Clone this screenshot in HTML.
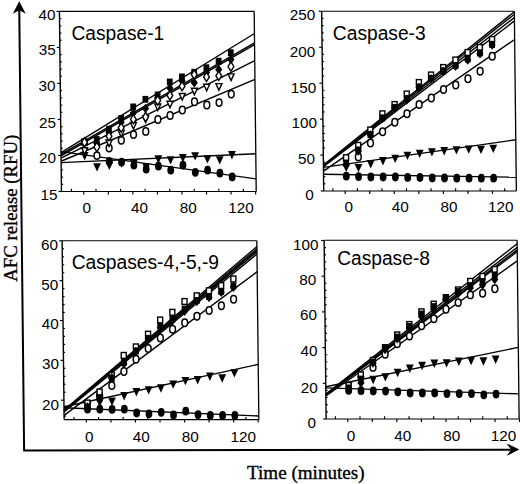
<!DOCTYPE html>
<html><head><meta charset="utf-8"><style>html,body{margin:0;padding:0;background:#fff;}svg{display:block;}</style></head>
<body>
<svg width="520" height="484" viewBox="0 0 520 484">
<rect width="520" height="484" fill="#fff"/>
<line x1="19.25" y1="9" x2="24.1" y2="450.3" stroke="#000" stroke-width="2"/>
<path d="M19.2,1.2 L25.8,13.8 L19.3,10.2 L12.8,13.8 Z" fill="#000"/>
<line x1="23.2" y1="450.4" x2="512" y2="449.7" stroke="#000" stroke-width="2"/>
<path d="M519.3,449.5 L506.6,443.4 L511,449.6 L506.8,455.8 Z" fill="#000"/>
<text x="247.0" y="478.6" font-family="Liberation Serif" font-size="19.1" fill="#000" stroke="#000" stroke-width="0.35">Time (minutes)</text>
<text transform="translate(17.0,281.8) rotate(-90)" x="0" y="0" font-family="Liberation Serif" font-size="18.8" fill="#000" stroke="#000" stroke-width="0.35">AFC release (RFU)</text>
<line x1="59.43" y1="11.35" x2="254.18" y2="11.35" stroke="#000" stroke-width="1.1"/>
<line x1="254.18" y1="11.35" x2="256.21" y2="191.50" stroke="#000" stroke-width="1.3"/>
<line x1="61.46" y1="191.50" x2="256.21" y2="191.50" stroke="#000" stroke-width="1.1"/>
<line x1="59.43" y1="11.35" x2="61.46" y2="191.50" stroke="#000" stroke-width="1.4"/>
<line x1="58.46" y1="191.50" x2="61.46" y2="191.50" stroke="#000" stroke-width="1.15"/>
<line x1="58.06" y1="155.49" x2="61.06" y2="155.49" stroke="#000" stroke-width="1.15"/>
<line x1="57.65" y1="119.47" x2="60.65" y2="119.47" stroke="#000" stroke-width="1.15"/>
<line x1="57.24" y1="83.45" x2="60.24" y2="83.45" stroke="#000" stroke-width="1.15"/>
<line x1="56.84" y1="47.44" x2="59.84" y2="47.44" stroke="#000" stroke-width="1.15"/>
<line x1="56.43" y1="11.42" x2="59.43" y2="11.42" stroke="#000" stroke-width="1.15"/>
<line x1="61.38" y1="184.30" x2="63.18" y2="184.30" stroke="#000" stroke-width="1.15"/>
<line x1="61.30" y1="177.09" x2="63.10" y2="177.09" stroke="#000" stroke-width="1.15"/>
<line x1="61.22" y1="169.89" x2="63.02" y2="169.89" stroke="#000" stroke-width="1.15"/>
<line x1="61.14" y1="162.69" x2="62.94" y2="162.69" stroke="#000" stroke-width="1.15"/>
<line x1="60.98" y1="148.28" x2="62.78" y2="148.28" stroke="#000" stroke-width="1.15"/>
<line x1="60.89" y1="141.08" x2="62.69" y2="141.08" stroke="#000" stroke-width="1.15"/>
<line x1="60.81" y1="133.88" x2="62.61" y2="133.88" stroke="#000" stroke-width="1.15"/>
<line x1="60.73" y1="126.67" x2="62.53" y2="126.67" stroke="#000" stroke-width="1.15"/>
<line x1="60.57" y1="112.27" x2="62.37" y2="112.27" stroke="#000" stroke-width="1.15"/>
<line x1="60.49" y1="105.06" x2="62.29" y2="105.06" stroke="#000" stroke-width="1.15"/>
<line x1="60.41" y1="97.86" x2="62.21" y2="97.86" stroke="#000" stroke-width="1.15"/>
<line x1="60.32" y1="90.66" x2="62.12" y2="90.66" stroke="#000" stroke-width="1.15"/>
<line x1="60.16" y1="76.25" x2="61.96" y2="76.25" stroke="#000" stroke-width="1.15"/>
<line x1="60.08" y1="69.05" x2="61.88" y2="69.05" stroke="#000" stroke-width="1.15"/>
<line x1="60.00" y1="61.85" x2="61.80" y2="61.85" stroke="#000" stroke-width="1.15"/>
<line x1="59.92" y1="54.64" x2="61.72" y2="54.64" stroke="#000" stroke-width="1.15"/>
<line x1="59.75" y1="40.24" x2="61.55" y2="40.24" stroke="#000" stroke-width="1.15"/>
<line x1="59.67" y1="33.03" x2="61.47" y2="33.03" stroke="#000" stroke-width="1.15"/>
<line x1="59.59" y1="25.83" x2="61.39" y2="25.83" stroke="#000" stroke-width="1.15"/>
<line x1="59.51" y1="18.63" x2="61.31" y2="18.63" stroke="#000" stroke-width="1.15"/>
<line x1="71.46" y1="188.80" x2="71.49" y2="191.50" stroke="#000" stroke-width="1.15"/>
<line x1="83.76" y1="191.50" x2="83.80" y2="194.50" stroke="#000" stroke-width="1.15"/>
<line x1="96.01" y1="188.80" x2="96.04" y2="191.50" stroke="#000" stroke-width="1.15"/>
<line x1="108.31" y1="191.50" x2="108.35" y2="194.50" stroke="#000" stroke-width="1.15"/>
<line x1="120.56" y1="188.80" x2="120.59" y2="191.50" stroke="#000" stroke-width="1.15"/>
<line x1="132.86" y1="191.50" x2="132.90" y2="194.50" stroke="#000" stroke-width="1.15"/>
<line x1="145.11" y1="188.80" x2="145.14" y2="191.50" stroke="#000" stroke-width="1.15"/>
<line x1="157.41" y1="191.50" x2="157.45" y2="194.50" stroke="#000" stroke-width="1.15"/>
<line x1="169.66" y1="188.80" x2="169.69" y2="191.50" stroke="#000" stroke-width="1.15"/>
<line x1="181.96" y1="191.50" x2="182.00" y2="194.50" stroke="#000" stroke-width="1.15"/>
<line x1="194.21" y1="188.80" x2="194.24" y2="191.50" stroke="#000" stroke-width="1.15"/>
<line x1="206.51" y1="191.50" x2="206.55" y2="194.50" stroke="#000" stroke-width="1.15"/>
<line x1="218.76" y1="188.80" x2="218.79" y2="191.50" stroke="#000" stroke-width="1.15"/>
<line x1="231.06" y1="191.50" x2="231.10" y2="194.50" stroke="#000" stroke-width="1.15"/>
<line x1="243.31" y1="188.80" x2="243.34" y2="191.50" stroke="#000" stroke-width="1.15"/>
<line x1="255.61" y1="191.50" x2="255.65" y2="194.50" stroke="#000" stroke-width="1.15"/>
<line x1="321.68" y1="11.30" x2="514.33" y2="11.30" stroke="#000" stroke-width="1.1"/>
<line x1="514.33" y1="11.30" x2="516.36" y2="191.00" stroke="#000" stroke-width="1.3"/>
<line x1="323.71" y1="191.00" x2="516.36" y2="191.00" stroke="#000" stroke-width="1.1"/>
<line x1="321.68" y1="11.30" x2="323.71" y2="191.00" stroke="#000" stroke-width="1.4"/>
<line x1="320.71" y1="191.00" x2="323.71" y2="191.00" stroke="#000" stroke-width="1.15"/>
<line x1="320.30" y1="155.06" x2="323.30" y2="155.06" stroke="#000" stroke-width="1.15"/>
<line x1="319.90" y1="119.12" x2="322.90" y2="119.12" stroke="#000" stroke-width="1.15"/>
<line x1="319.49" y1="83.18" x2="322.49" y2="83.18" stroke="#000" stroke-width="1.15"/>
<line x1="319.08" y1="47.24" x2="322.08" y2="47.24" stroke="#000" stroke-width="1.15"/>
<line x1="318.68" y1="11.30" x2="321.68" y2="11.30" stroke="#000" stroke-width="1.15"/>
<line x1="323.63" y1="183.81" x2="325.43" y2="183.81" stroke="#000" stroke-width="1.15"/>
<line x1="323.55" y1="176.62" x2="325.35" y2="176.62" stroke="#000" stroke-width="1.15"/>
<line x1="323.46" y1="169.44" x2="325.26" y2="169.44" stroke="#000" stroke-width="1.15"/>
<line x1="323.38" y1="162.25" x2="325.18" y2="162.25" stroke="#000" stroke-width="1.15"/>
<line x1="323.22" y1="147.87" x2="325.02" y2="147.87" stroke="#000" stroke-width="1.15"/>
<line x1="323.14" y1="140.68" x2="324.94" y2="140.68" stroke="#000" stroke-width="1.15"/>
<line x1="323.06" y1="133.50" x2="324.86" y2="133.50" stroke="#000" stroke-width="1.15"/>
<line x1="322.98" y1="126.31" x2="324.78" y2="126.31" stroke="#000" stroke-width="1.15"/>
<line x1="322.81" y1="111.93" x2="324.61" y2="111.93" stroke="#000" stroke-width="1.15"/>
<line x1="322.73" y1="104.74" x2="324.53" y2="104.74" stroke="#000" stroke-width="1.15"/>
<line x1="322.65" y1="97.56" x2="324.45" y2="97.56" stroke="#000" stroke-width="1.15"/>
<line x1="322.57" y1="90.37" x2="324.37" y2="90.37" stroke="#000" stroke-width="1.15"/>
<line x1="322.41" y1="75.99" x2="324.21" y2="75.99" stroke="#000" stroke-width="1.15"/>
<line x1="322.33" y1="68.80" x2="324.13" y2="68.80" stroke="#000" stroke-width="1.15"/>
<line x1="322.25" y1="61.62" x2="324.05" y2="61.62" stroke="#000" stroke-width="1.15"/>
<line x1="322.17" y1="54.43" x2="323.97" y2="54.43" stroke="#000" stroke-width="1.15"/>
<line x1="322.00" y1="40.05" x2="323.80" y2="40.05" stroke="#000" stroke-width="1.15"/>
<line x1="321.92" y1="32.86" x2="323.72" y2="32.86" stroke="#000" stroke-width="1.15"/>
<line x1="321.84" y1="25.68" x2="323.64" y2="25.68" stroke="#000" stroke-width="1.15"/>
<line x1="321.76" y1="18.49" x2="323.56" y2="18.49" stroke="#000" stroke-width="1.15"/>
<line x1="332.85" y1="188.30" x2="332.88" y2="191.00" stroke="#000" stroke-width="1.15"/>
<line x1="345.16" y1="191.00" x2="345.19" y2="194.00" stroke="#000" stroke-width="1.15"/>
<line x1="357.40" y1="188.30" x2="357.43" y2="191.00" stroke="#000" stroke-width="1.15"/>
<line x1="369.71" y1="191.00" x2="369.74" y2="194.00" stroke="#000" stroke-width="1.15"/>
<line x1="381.95" y1="188.30" x2="381.98" y2="191.00" stroke="#000" stroke-width="1.15"/>
<line x1="394.26" y1="191.00" x2="394.29" y2="194.00" stroke="#000" stroke-width="1.15"/>
<line x1="406.50" y1="188.30" x2="406.53" y2="191.00" stroke="#000" stroke-width="1.15"/>
<line x1="418.81" y1="191.00" x2="418.84" y2="194.00" stroke="#000" stroke-width="1.15"/>
<line x1="431.05" y1="188.30" x2="431.08" y2="191.00" stroke="#000" stroke-width="1.15"/>
<line x1="443.36" y1="191.00" x2="443.39" y2="194.00" stroke="#000" stroke-width="1.15"/>
<line x1="455.60" y1="188.30" x2="455.63" y2="191.00" stroke="#000" stroke-width="1.15"/>
<line x1="467.91" y1="191.00" x2="467.94" y2="194.00" stroke="#000" stroke-width="1.15"/>
<line x1="480.15" y1="188.30" x2="480.18" y2="191.00" stroke="#000" stroke-width="1.15"/>
<line x1="492.46" y1="191.00" x2="492.49" y2="194.00" stroke="#000" stroke-width="1.15"/>
<line x1="504.70" y1="188.30" x2="504.73" y2="191.00" stroke="#000" stroke-width="1.15"/>
<line x1="62.12" y1="240.80" x2="256.82" y2="240.80" stroke="#000" stroke-width="1.1"/>
<line x1="256.82" y1="240.80" x2="258.84" y2="419.60" stroke="#000" stroke-width="1.3"/>
<line x1="64.14" y1="419.60" x2="258.84" y2="419.60" stroke="#000" stroke-width="1.1"/>
<line x1="62.12" y1="240.80" x2="64.14" y2="419.60" stroke="#000" stroke-width="1.4"/>
<line x1="60.92" y1="400.20" x2="63.92" y2="400.20" stroke="#000" stroke-width="1.15"/>
<line x1="60.47" y1="360.35" x2="63.47" y2="360.35" stroke="#000" stroke-width="1.15"/>
<line x1="60.02" y1="320.50" x2="63.02" y2="320.50" stroke="#000" stroke-width="1.15"/>
<line x1="59.57" y1="280.65" x2="62.57" y2="280.65" stroke="#000" stroke-width="1.15"/>
<line x1="59.12" y1="240.80" x2="62.12" y2="240.80" stroke="#000" stroke-width="1.15"/>
<line x1="64.10" y1="416.14" x2="65.90" y2="416.14" stroke="#000" stroke-width="1.15"/>
<line x1="64.01" y1="408.17" x2="65.81" y2="408.17" stroke="#000" stroke-width="1.15"/>
<line x1="63.83" y1="392.23" x2="65.63" y2="392.23" stroke="#000" stroke-width="1.15"/>
<line x1="63.74" y1="384.26" x2="65.54" y2="384.26" stroke="#000" stroke-width="1.15"/>
<line x1="63.65" y1="376.29" x2="65.45" y2="376.29" stroke="#000" stroke-width="1.15"/>
<line x1="63.56" y1="368.32" x2="65.36" y2="368.32" stroke="#000" stroke-width="1.15"/>
<line x1="63.38" y1="352.38" x2="65.18" y2="352.38" stroke="#000" stroke-width="1.15"/>
<line x1="63.29" y1="344.41" x2="65.09" y2="344.41" stroke="#000" stroke-width="1.15"/>
<line x1="63.20" y1="336.44" x2="65.00" y2="336.44" stroke="#000" stroke-width="1.15"/>
<line x1="63.11" y1="328.47" x2="64.91" y2="328.47" stroke="#000" stroke-width="1.15"/>
<line x1="62.93" y1="312.53" x2="64.73" y2="312.53" stroke="#000" stroke-width="1.15"/>
<line x1="62.84" y1="304.56" x2="64.64" y2="304.56" stroke="#000" stroke-width="1.15"/>
<line x1="62.75" y1="296.59" x2="64.55" y2="296.59" stroke="#000" stroke-width="1.15"/>
<line x1="62.66" y1="288.62" x2="64.46" y2="288.62" stroke="#000" stroke-width="1.15"/>
<line x1="62.48" y1="272.68" x2="64.28" y2="272.68" stroke="#000" stroke-width="1.15"/>
<line x1="62.39" y1="264.71" x2="64.19" y2="264.71" stroke="#000" stroke-width="1.15"/>
<line x1="62.30" y1="256.74" x2="64.10" y2="256.74" stroke="#000" stroke-width="1.15"/>
<line x1="62.21" y1="248.77" x2="64.01" y2="248.77" stroke="#000" stroke-width="1.15"/>
<line x1="74.04" y1="416.90" x2="74.07" y2="419.60" stroke="#000" stroke-width="1.15"/>
<line x1="86.34" y1="419.60" x2="86.38" y2="422.60" stroke="#000" stroke-width="1.15"/>
<line x1="98.59" y1="416.90" x2="98.62" y2="419.60" stroke="#000" stroke-width="1.15"/>
<line x1="110.89" y1="419.60" x2="110.93" y2="422.60" stroke="#000" stroke-width="1.15"/>
<line x1="123.14" y1="416.90" x2="123.17" y2="419.60" stroke="#000" stroke-width="1.15"/>
<line x1="135.44" y1="419.60" x2="135.48" y2="422.60" stroke="#000" stroke-width="1.15"/>
<line x1="147.69" y1="416.90" x2="147.72" y2="419.60" stroke="#000" stroke-width="1.15"/>
<line x1="159.99" y1="419.60" x2="160.03" y2="422.60" stroke="#000" stroke-width="1.15"/>
<line x1="172.24" y1="416.90" x2="172.27" y2="419.60" stroke="#000" stroke-width="1.15"/>
<line x1="184.54" y1="419.60" x2="184.58" y2="422.60" stroke="#000" stroke-width="1.15"/>
<line x1="196.79" y1="416.90" x2="196.82" y2="419.60" stroke="#000" stroke-width="1.15"/>
<line x1="209.09" y1="419.60" x2="209.13" y2="422.60" stroke="#000" stroke-width="1.15"/>
<line x1="221.34" y1="416.90" x2="221.37" y2="419.60" stroke="#000" stroke-width="1.15"/>
<line x1="233.64" y1="419.60" x2="233.68" y2="422.60" stroke="#000" stroke-width="1.15"/>
<line x1="245.89" y1="416.90" x2="245.92" y2="419.60" stroke="#000" stroke-width="1.15"/>
<line x1="258.19" y1="419.60" x2="258.23" y2="422.60" stroke="#000" stroke-width="1.15"/>
<line x1="324.12" y1="240.30" x2="517.12" y2="240.30" stroke="#000" stroke-width="1.1"/>
<line x1="517.12" y1="240.30" x2="519.13" y2="419.00" stroke="#000" stroke-width="1.3"/>
<line x1="326.13" y1="419.00" x2="519.13" y2="419.00" stroke="#000" stroke-width="1.1"/>
<line x1="324.12" y1="240.30" x2="326.13" y2="419.00" stroke="#000" stroke-width="1.4"/>
<line x1="323.13" y1="419.00" x2="326.13" y2="419.00" stroke="#000" stroke-width="1.15"/>
<line x1="322.73" y1="383.30" x2="325.73" y2="383.30" stroke="#000" stroke-width="1.15"/>
<line x1="322.33" y1="347.60" x2="325.33" y2="347.60" stroke="#000" stroke-width="1.15"/>
<line x1="321.92" y1="311.90" x2="324.92" y2="311.90" stroke="#000" stroke-width="1.15"/>
<line x1="321.52" y1="276.20" x2="324.52" y2="276.20" stroke="#000" stroke-width="1.15"/>
<line x1="321.12" y1="240.50" x2="324.12" y2="240.50" stroke="#000" stroke-width="1.15"/>
<line x1="326.05" y1="411.86" x2="327.85" y2="411.86" stroke="#000" stroke-width="1.15"/>
<line x1="325.97" y1="404.72" x2="327.77" y2="404.72" stroke="#000" stroke-width="1.15"/>
<line x1="325.89" y1="397.58" x2="327.69" y2="397.58" stroke="#000" stroke-width="1.15"/>
<line x1="325.81" y1="390.44" x2="327.61" y2="390.44" stroke="#000" stroke-width="1.15"/>
<line x1="325.65" y1="376.16" x2="327.45" y2="376.16" stroke="#000" stroke-width="1.15"/>
<line x1="325.57" y1="369.02" x2="327.37" y2="369.02" stroke="#000" stroke-width="1.15"/>
<line x1="325.49" y1="361.88" x2="327.29" y2="361.88" stroke="#000" stroke-width="1.15"/>
<line x1="325.41" y1="354.74" x2="327.21" y2="354.74" stroke="#000" stroke-width="1.15"/>
<line x1="325.25" y1="340.46" x2="327.05" y2="340.46" stroke="#000" stroke-width="1.15"/>
<line x1="325.17" y1="333.32" x2="326.97" y2="333.32" stroke="#000" stroke-width="1.15"/>
<line x1="325.09" y1="326.18" x2="326.89" y2="326.18" stroke="#000" stroke-width="1.15"/>
<line x1="325.01" y1="319.04" x2="326.81" y2="319.04" stroke="#000" stroke-width="1.15"/>
<line x1="324.84" y1="304.76" x2="326.64" y2="304.76" stroke="#000" stroke-width="1.15"/>
<line x1="324.76" y1="297.62" x2="326.56" y2="297.62" stroke="#000" stroke-width="1.15"/>
<line x1="324.68" y1="290.48" x2="326.48" y2="290.48" stroke="#000" stroke-width="1.15"/>
<line x1="324.60" y1="283.34" x2="326.40" y2="283.34" stroke="#000" stroke-width="1.15"/>
<line x1="324.44" y1="269.06" x2="326.24" y2="269.06" stroke="#000" stroke-width="1.15"/>
<line x1="324.36" y1="261.92" x2="326.16" y2="261.92" stroke="#000" stroke-width="1.15"/>
<line x1="324.28" y1="254.78" x2="326.08" y2="254.78" stroke="#000" stroke-width="1.15"/>
<line x1="324.20" y1="247.64" x2="326.00" y2="247.64" stroke="#000" stroke-width="1.15"/>
<line x1="335.43" y1="416.30" x2="335.46" y2="419.00" stroke="#000" stroke-width="1.15"/>
<line x1="347.73" y1="419.00" x2="347.77" y2="422.00" stroke="#000" stroke-width="1.15"/>
<line x1="359.98" y1="416.30" x2="360.01" y2="419.00" stroke="#000" stroke-width="1.15"/>
<line x1="372.28" y1="419.00" x2="372.32" y2="422.00" stroke="#000" stroke-width="1.15"/>
<line x1="384.53" y1="416.30" x2="384.56" y2="419.00" stroke="#000" stroke-width="1.15"/>
<line x1="396.83" y1="419.00" x2="396.87" y2="422.00" stroke="#000" stroke-width="1.15"/>
<line x1="409.08" y1="416.30" x2="409.11" y2="419.00" stroke="#000" stroke-width="1.15"/>
<line x1="421.38" y1="419.00" x2="421.42" y2="422.00" stroke="#000" stroke-width="1.15"/>
<line x1="433.63" y1="416.30" x2="433.66" y2="419.00" stroke="#000" stroke-width="1.15"/>
<line x1="445.93" y1="419.00" x2="445.97" y2="422.00" stroke="#000" stroke-width="1.15"/>
<line x1="458.18" y1="416.30" x2="458.21" y2="419.00" stroke="#000" stroke-width="1.15"/>
<line x1="470.48" y1="419.00" x2="470.52" y2="422.00" stroke="#000" stroke-width="1.15"/>
<line x1="482.73" y1="416.30" x2="482.76" y2="419.00" stroke="#000" stroke-width="1.15"/>
<line x1="495.03" y1="419.00" x2="495.07" y2="422.00" stroke="#000" stroke-width="1.15"/>
<line x1="507.28" y1="416.30" x2="507.31" y2="419.00" stroke="#000" stroke-width="1.15"/>
<line x1="519.58" y1="419.00" x2="519.62" y2="422.00" stroke="#000" stroke-width="1.15"/>
<line x1="61.03" y1="152.72" x2="254.43" y2="33.52" stroke="#000" stroke-width="1.4"/>
<line x1="61.04" y1="154.38" x2="254.53" y2="42.77" stroke="#000" stroke-width="1.4"/>
<line x1="61.06" y1="155.97" x2="254.55" y2="44.65" stroke="#000" stroke-width="1.4"/>
<line x1="61.09" y1="158.01" x2="254.74" y2="60.68" stroke="#000" stroke-width="1.4"/>
<line x1="61.12" y1="161.24" x2="254.95" y2="79.43" stroke="#000" stroke-width="1.4"/>
<line x1="61.14" y1="162.63" x2="255.79" y2="153.73" stroke="#000" stroke-width="1.4"/>
<line x1="61.01" y1="151.60" x2="256.07" y2="178.85" stroke="#000" stroke-width="1.4"/>
<ellipse cx="109.27" cy="161.50" rx="3.4" ry="4.4" fill="#000"/>
<ellipse cx="121.56" cy="162.20" rx="3.4" ry="4.4" fill="#000"/>
<ellipse cx="133.87" cy="165.20" rx="3.4" ry="4.4" fill="#000"/>
<ellipse cx="146.19" cy="169.20" rx="3.4" ry="4.4" fill="#000"/>
<ellipse cx="158.43" cy="166.20" rx="3.4" ry="4.4" fill="#000"/>
<ellipse cx="170.75" cy="170.20" rx="3.4" ry="4.4" fill="#000"/>
<ellipse cx="182.97" cy="165.20" rx="3.4" ry="4.4" fill="#000"/>
<ellipse cx="195.32" cy="172.30" rx="3.4" ry="4.4" fill="#000"/>
<ellipse cx="207.57" cy="170.20" rx="3.4" ry="4.4" fill="#000"/>
<ellipse cx="219.88" cy="173.20" rx="3.4" ry="4.4" fill="#000"/>
<ellipse cx="232.20" cy="177.00" rx="3.4" ry="4.4" fill="#000"/>
<path d="M80.76,152.00H88.56L84.66,160.40Z" fill="#000"/>
<path d="M93.16,163.20H100.96L97.06,171.60Z" fill="#000"/>
<path d="M105.42,161.70H113.22L109.32,170.10Z" fill="#000"/>
<path d="M117.67,159.40H125.47L121.57,167.80Z" fill="#000"/>
<path d="M129.95,159.70H137.75L133.85,168.10Z" fill="#000"/>
<path d="M142.26,163.20H150.06L146.16,171.60Z" fill="#000"/>
<path d="M154.45,155.30H162.25L158.35,163.70Z" fill="#000"/>
<path d="M166.73,156.20H174.53L170.63,164.60Z" fill="#000"/>
<path d="M178.98,154.00H186.78L182.88,162.40Z" fill="#000"/>
<path d="M191.24,152.20H199.04L195.14,160.60Z" fill="#000"/>
<path d="M203.55,155.20H211.35L207.45,163.60Z" fill="#000"/>
<path d="M215.83,156.20H223.63L219.73,164.60Z" fill="#000"/>
<path d="M228.05,151.00H235.85L231.95,159.40Z" fill="#000"/>
<ellipse cx="96.93" cy="155.60" rx="2.9" ry="3.7" fill="#fff" stroke="#000" stroke-width="1.5"/>
<ellipse cx="109.12" cy="148.10" rx="2.9" ry="3.7" fill="#fff" stroke="#000" stroke-width="1.5"/>
<ellipse cx="121.31" cy="140.20" rx="2.9" ry="3.7" fill="#fff" stroke="#000" stroke-width="1.5"/>
<ellipse cx="133.52" cy="134.60" rx="2.9" ry="3.7" fill="#fff" stroke="#000" stroke-width="1.5"/>
<ellipse cx="145.76" cy="131.40" rx="2.9" ry="3.7" fill="#fff" stroke="#000" stroke-width="1.5"/>
<ellipse cx="157.90" cy="119.50" rx="2.9" ry="3.7" fill="#fff" stroke="#000" stroke-width="1.5"/>
<ellipse cx="170.13" cy="115.50" rx="2.9" ry="3.7" fill="#fff" stroke="#000" stroke-width="1.5"/>
<ellipse cx="182.34" cy="110.00" rx="2.9" ry="3.7" fill="#fff" stroke="#000" stroke-width="1.5"/>
<ellipse cx="194.52" cy="101.70" rx="2.9" ry="3.7" fill="#fff" stroke="#000" stroke-width="1.5"/>
<ellipse cx="206.84" cy="105.00" rx="2.9" ry="3.7" fill="#fff" stroke="#000" stroke-width="1.5"/>
<ellipse cx="219.08" cy="102.60" rx="2.9" ry="3.7" fill="#fff" stroke="#000" stroke-width="1.5"/>
<ellipse cx="231.26" cy="94.10" rx="2.9" ry="3.7" fill="#fff" stroke="#000" stroke-width="1.5"/>
<path d="M81.60,147.80H87.60L84.60,154.40Z" fill="#fff" stroke="#000" stroke-width="1.4"/>
<path d="M106.07,140.00H112.07L109.07,146.60Z" fill="#fff" stroke="#000" stroke-width="1.4"/>
<path d="M118.23,130.50H124.23L121.23,137.10Z" fill="#fff" stroke="#000" stroke-width="1.4"/>
<path d="M130.42,122.50H136.42L133.42,129.10Z" fill="#fff" stroke="#000" stroke-width="1.4"/>
<path d="M142.62,116.00H148.62L145.62,122.60Z" fill="#fff" stroke="#000" stroke-width="1.4"/>
<path d="M154.76,104.00H160.76L157.76,110.60Z" fill="#fff" stroke="#000" stroke-width="1.4"/>
<path d="M167.00,101.20H173.00L170.00,107.80Z" fill="#fff" stroke="#000" stroke-width="1.4"/>
<path d="M179.19,93.50H185.19L182.19,100.10Z" fill="#fff" stroke="#000" stroke-width="1.4"/>
<path d="M191.41,88.20H197.41L194.41,94.80Z" fill="#fff" stroke="#000" stroke-width="1.4"/>
<path d="M203.64,84.30H209.64L206.64,90.90Z" fill="#fff" stroke="#000" stroke-width="1.4"/>
<path d="M215.90,83.60H221.90L218.90,90.20Z" fill="#fff" stroke="#000" stroke-width="1.4"/>
<path d="M228.07,73.90H234.07L231.07,80.50Z" fill="#fff" stroke="#000" stroke-width="1.4"/>
<rect x="82.00" y="139.10" width="5.0" height="5.8" fill="#fff" stroke="#000" stroke-width="1.4"/>
<rect x="81.60" y="138.60" width="5.8" height="6.8" fill="#000"/>
<rect x="93.85" y="136.10" width="5.8" height="6.8" fill="#000"/>
<rect x="106.01" y="125.80" width="5.8" height="6.8" fill="#000"/>
<rect x="118.16" y="115.10" width="5.8" height="6.8" fill="#000"/>
<rect x="130.31" y="103.50" width="5.8" height="6.8" fill="#000"/>
<rect x="142.50" y="95.90" width="5.8" height="6.8" fill="#000"/>
<rect x="154.72" y="91.50" width="5.8" height="6.8" fill="#000"/>
<rect x="166.85" y="78.60" width="5.8" height="6.8" fill="#000"/>
<rect x="179.07" y="73.50" width="5.8" height="6.8" fill="#000"/>
<rect x="191.29" y="68.90" width="5.8" height="6.8" fill="#000"/>
<rect x="203.52" y="64.30" width="5.8" height="6.8" fill="#000"/>
<rect x="215.72" y="57.80" width="5.8" height="6.8" fill="#000"/>
<rect x="227.90" y="49.30" width="5.8" height="6.8" fill="#000"/>
<path d="M84.51,137.70L88.11,142.50L84.51,147.30L80.91,142.50Z" fill="#000"/>
<path d="M96.80,138.70L100.40,143.50L96.80,148.30L93.20,143.50Z" fill="#000"/>
<path d="M108.95,127.70L112.55,132.50L108.95,137.30L105.35,132.50Z" fill="#000"/>
<path d="M121.11,117.70L124.71,122.50L121.11,127.30L117.51,122.50Z" fill="#000"/>
<path d="M133.28,108.20L136.88,113.00L133.28,117.80L129.68,113.00Z" fill="#000"/>
<path d="M145.50,103.70L149.10,108.50L145.50,113.30L141.90,108.50Z" fill="#000"/>
<path d="M157.66,93.20L161.26,98.00L157.66,102.80L154.06,98.00Z" fill="#000"/>
<path d="M169.82,83.20L173.42,88.00L169.82,92.80L166.22,88.00Z" fill="#000"/>
<path d="M182.02,76.20L185.62,81.00L182.02,85.80L178.42,81.00Z" fill="#000"/>
<path d="M194.31,77.90L197.91,82.70L194.31,87.50L190.71,82.70Z" fill="#000"/>
<path d="M206.47,67.70L210.07,72.50L206.47,77.30L202.87,72.50Z" fill="#000"/>
<path d="M218.71,64.70L222.31,69.50L218.71,74.30L215.11,69.50Z" fill="#000"/>
<path d="M230.87,54.80L234.47,59.60L230.87,64.40L227.27,59.60Z" fill="#000"/>
<path d="M84.51,137.70L87.41,142.30L84.51,146.90L81.61,142.30Z" fill="#fff" stroke="#000" stroke-width="1.4"/>
<path d="M96.84,142.40L99.74,147.00L96.84,151.60L93.94,147.00Z" fill="#fff" stroke="#000" stroke-width="1.4"/>
<path d="M108.99,131.60L111.89,136.20L108.99,140.80L106.09,136.20Z" fill="#fff" stroke="#000" stroke-width="1.4"/>
<path d="M121.17,123.10L124.07,127.70L121.17,132.30L118.27,127.70Z" fill="#fff" stroke="#000" stroke-width="1.4"/>
<path d="M133.35,114.60L136.25,119.20L133.35,123.80L130.45,119.20Z" fill="#fff" stroke="#000" stroke-width="1.4"/>
<path d="M145.60,112.40L148.50,117.00L145.60,121.60L142.70,117.00Z" fill="#fff" stroke="#000" stroke-width="1.4"/>
<path d="M157.69,95.90L160.59,100.50L157.69,105.10L154.79,100.50Z" fill="#fff" stroke="#000" stroke-width="1.4"/>
<path d="M169.90,90.80L172.80,95.40L169.90,100.00L167.00,95.40Z" fill="#fff" stroke="#000" stroke-width="1.4"/>
<path d="M182.07,81.60L184.97,86.20L182.07,90.80L179.17,86.20Z" fill="#fff" stroke="#000" stroke-width="1.4"/>
<path d="M194.22,70.00L197.12,74.60L194.22,79.20L191.32,74.60Z" fill="#fff" stroke="#000" stroke-width="1.4"/>
<path d="M206.52,72.30L209.42,76.90L206.52,81.50L203.62,76.90Z" fill="#fff" stroke="#000" stroke-width="1.4"/>
<path d="M218.78,71.20L221.68,75.80L218.78,80.40L215.88,75.80Z" fill="#fff" stroke="#000" stroke-width="1.4"/>
<path d="M230.95,61.90L233.85,66.50L230.95,71.10L228.05,66.50Z" fill="#fff" stroke="#000" stroke-width="1.4"/>
<line x1="323.41" y1="164.99" x2="514.33" y2="11.77" stroke="#000" stroke-width="1.4"/>
<line x1="323.42" y1="165.48" x2="514.36" y2="14.25" stroke="#000" stroke-width="1.4"/>
<line x1="323.43" y1="165.98" x2="514.40" y2="17.52" stroke="#000" stroke-width="1.4"/>
<line x1="323.43" y1="166.58" x2="514.44" y2="20.90" stroke="#000" stroke-width="1.4"/>
<line x1="323.48" y1="171.14" x2="514.65" y2="39.46" stroke="#000" stroke-width="1.4"/>
<line x1="323.44" y1="167.39" x2="515.78" y2="139.79" stroke="#000" stroke-width="1.4"/>
<line x1="323.52" y1="174.20" x2="516.20" y2="177.23" stroke="#000" stroke-width="1.4"/>
<ellipse cx="346.29" cy="176.20" rx="3.4" ry="4.4" fill="#000"/>
<ellipse cx="358.57" cy="176.60" rx="3.4" ry="4.4" fill="#000"/>
<ellipse cx="370.85" cy="177.00" rx="3.4" ry="4.4" fill="#000"/>
<ellipse cx="383.13" cy="177.00" rx="3.4" ry="4.4" fill="#000"/>
<ellipse cx="395.40" cy="177.00" rx="3.4" ry="4.4" fill="#000"/>
<ellipse cx="407.68" cy="177.50" rx="3.4" ry="4.4" fill="#000"/>
<ellipse cx="419.96" cy="177.50" rx="3.4" ry="4.4" fill="#000"/>
<ellipse cx="432.24" cy="178.00" rx="3.4" ry="4.4" fill="#000"/>
<ellipse cx="444.51" cy="178.00" rx="3.4" ry="4.4" fill="#000"/>
<ellipse cx="456.79" cy="178.20" rx="3.4" ry="4.4" fill="#000"/>
<ellipse cx="469.06" cy="178.20" rx="3.4" ry="4.4" fill="#000"/>
<ellipse cx="481.34" cy="178.20" rx="3.4" ry="4.4" fill="#000"/>
<ellipse cx="493.61" cy="178.20" rx="3.4" ry="4.4" fill="#000"/>
<path d="M342.29,163.70H350.09L346.19,172.10Z" fill="#000"/>
<path d="M354.57,163.90H362.37L358.47,172.30Z" fill="#000"/>
<path d="M366.80,160.00H374.60L370.70,168.40Z" fill="#000"/>
<path d="M379.04,157.00H386.84L382.94,165.40Z" fill="#000"/>
<path d="M391.29,154.70H399.09L395.19,163.10Z" fill="#000"/>
<path d="M403.53,151.70H411.33L407.43,160.10Z" fill="#000"/>
<path d="M415.78,149.70H423.58L419.68,158.10Z" fill="#000"/>
<path d="M428.04,148.20H435.84L431.94,156.60Z" fill="#000"/>
<path d="M440.30,147.00H448.10L444.20,155.40Z" fill="#000"/>
<path d="M452.57,146.20H460.37L456.47,154.60Z" fill="#000"/>
<path d="M464.84,145.40H472.64L468.74,153.80Z" fill="#000"/>
<path d="M477.11,145.70H484.91L481.01,154.10Z" fill="#000"/>
<path d="M489.38,144.70H497.18L493.28,153.10Z" fill="#000"/>
<ellipse cx="358.35" cy="156.90" rx="2.9" ry="3.7" fill="#fff" stroke="#000" stroke-width="1.5"/>
<ellipse cx="370.47" cy="143.00" rx="2.9" ry="3.7" fill="#fff" stroke="#000" stroke-width="1.5"/>
<ellipse cx="382.61" cy="131.80" rx="2.9" ry="3.7" fill="#fff" stroke="#000" stroke-width="1.5"/>
<ellipse cx="394.78" cy="122.30" rx="2.9" ry="3.7" fill="#fff" stroke="#000" stroke-width="1.5"/>
<ellipse cx="406.96" cy="113.70" rx="2.9" ry="3.7" fill="#fff" stroke="#000" stroke-width="1.5"/>
<ellipse cx="419.13" cy="104.50" rx="2.9" ry="3.7" fill="#fff" stroke="#000" stroke-width="1.5"/>
<ellipse cx="431.33" cy="98.00" rx="2.9" ry="3.7" fill="#fff" stroke="#000" stroke-width="1.5"/>
<ellipse cx="443.51" cy="89.50" rx="2.9" ry="3.7" fill="#fff" stroke="#000" stroke-width="1.5"/>
<ellipse cx="455.74" cy="85.00" rx="2.9" ry="3.7" fill="#fff" stroke="#000" stroke-width="1.5"/>
<ellipse cx="467.94" cy="78.80" rx="2.9" ry="3.7" fill="#fff" stroke="#000" stroke-width="1.5"/>
<ellipse cx="480.13" cy="71.30" rx="2.9" ry="3.7" fill="#fff" stroke="#000" stroke-width="1.5"/>
<ellipse cx="492.24" cy="56.30" rx="2.9" ry="3.7" fill="#fff" stroke="#000" stroke-width="1.5"/>
<rect x="343.58" y="154.80" width="5.0" height="5.8" fill="#fff" stroke="#000" stroke-width="1.4"/>
<rect x="355.72" y="142.50" width="5.0" height="5.8" fill="#fff" stroke="#000" stroke-width="1.4"/>
<rect x="367.82" y="127.10" width="5.0" height="5.8" fill="#fff" stroke="#000" stroke-width="1.4"/>
<rect x="379.91" y="110.90" width="5.0" height="5.8" fill="#fff" stroke="#000" stroke-width="1.4"/>
<rect x="392.08" y="101.60" width="5.0" height="5.8" fill="#fff" stroke="#000" stroke-width="1.4"/>
<rect x="404.24" y="91.10" width="5.0" height="5.8" fill="#fff" stroke="#000" stroke-width="1.4"/>
<rect x="416.38" y="79.60" width="5.0" height="5.8" fill="#fff" stroke="#000" stroke-width="1.4"/>
<rect x="428.57" y="72.10" width="5.0" height="5.8" fill="#fff" stroke="#000" stroke-width="1.4"/>
<rect x="440.76" y="64.60" width="5.0" height="5.8" fill="#fff" stroke="#000" stroke-width="1.4"/>
<rect x="452.95" y="57.10" width="5.0" height="5.8" fill="#fff" stroke="#000" stroke-width="1.4"/>
<rect x="465.14" y="49.60" width="5.0" height="5.8" fill="#fff" stroke="#000" stroke-width="1.4"/>
<rect x="477.36" y="44.60" width="5.0" height="5.8" fill="#fff" stroke="#000" stroke-width="1.4"/>
<rect x="489.55" y="36.60" width="5.0" height="5.8" fill="#fff" stroke="#000" stroke-width="1.4"/>
<rect x="343.24" y="159.60" width="5.8" height="6.8" fill="#000"/>
<rect x="355.37" y="146.60" width="5.8" height="6.8" fill="#000"/>
<rect x="367.47" y="131.10" width="5.8" height="6.8" fill="#000"/>
<rect x="379.56" y="114.60" width="5.8" height="6.8" fill="#000"/>
<rect x="391.71" y="104.10" width="5.8" height="6.8" fill="#000"/>
<rect x="403.89" y="95.10" width="5.8" height="6.8" fill="#000"/>
<rect x="416.03" y="83.60" width="5.8" height="6.8" fill="#000"/>
<rect x="428.21" y="75.10" width="5.8" height="6.8" fill="#000"/>
<rect x="440.40" y="67.60" width="5.8" height="6.8" fill="#000"/>
<rect x="452.62" y="62.10" width="5.8" height="6.8" fill="#000"/>
<rect x="464.82" y="55.60" width="5.8" height="6.8" fill="#000"/>
<rect x="477.02" y="49.60" width="5.8" height="6.8" fill="#000"/>
<rect x="489.20" y="41.10" width="5.8" height="6.8" fill="#000"/>
<path d="M346.16,160.20L349.76,165.00L346.16,169.80L342.56,165.00Z" fill="#000"/>
<path d="M358.28,146.20L361.88,151.00L358.28,155.80L354.68,151.00Z" fill="#000"/>
<path d="M370.38,130.20L373.98,135.00L370.38,139.80L366.78,135.00Z" fill="#000"/>
<path d="M382.46,113.70L386.06,118.50L382.46,123.30L378.86,118.50Z" fill="#000"/>
<path d="M394.62,103.40L398.22,108.20L394.62,113.00L391.02,108.20Z" fill="#000"/>
<path d="M406.81,95.20L410.41,100.00L406.81,104.80L403.20,100.00Z" fill="#000"/>
<path d="M418.94,82.70L422.54,87.50L418.94,92.30L415.34,87.50Z" fill="#000"/>
<path d="M431.12,74.00L434.72,78.80L431.12,83.60L427.52,78.80Z" fill="#000"/>
<path d="M443.31,66.50L446.91,71.30L443.31,76.10L439.71,71.30Z" fill="#000"/>
<path d="M455.52,61.50L459.12,66.30L455.52,71.10L451.92,66.30Z" fill="#000"/>
<path d="M467.73,55.20L471.33,60.00L467.73,64.80L464.13,60.00Z" fill="#000"/>
<path d="M479.93,49.00L483.53,53.80L479.93,58.60L476.33,53.80Z" fill="#000"/>
<path d="M492.11,40.20L495.71,45.00L492.11,49.80L488.51,45.00Z" fill="#000"/>
<line x1="64.03" y1="409.97" x2="256.89" y2="246.63" stroke="#000" stroke-width="1.4"/>
<line x1="64.04" y1="410.47" x2="256.91" y2="248.81" stroke="#000" stroke-width="1.4"/>
<line x1="64.04" y1="410.96" x2="256.93" y2="250.29" stroke="#000" stroke-width="1.4"/>
<line x1="64.05" y1="411.46" x2="256.95" y2="251.78" stroke="#000" stroke-width="1.4"/>
<line x1="64.06" y1="411.95" x2="256.97" y2="253.95" stroke="#000" stroke-width="1.4"/>
<line x1="64.09" y1="415.33" x2="257.17" y2="271.67" stroke="#000" stroke-width="1.4"/>
<line x1="64.00" y1="406.70" x2="258.22" y2="364.42" stroke="#000" stroke-width="1.4"/>
<line x1="64.01" y1="407.80" x2="258.80" y2="415.96" stroke="#000" stroke-width="1.4"/>
<ellipse cx="87.52" cy="409.20" rx="3.4" ry="4.4" fill="#000"/>
<ellipse cx="99.80" cy="409.20" rx="3.4" ry="4.4" fill="#000"/>
<ellipse cx="112.08" cy="409.40" rx="3.4" ry="4.4" fill="#000"/>
<ellipse cx="124.35" cy="409.20" rx="3.4" ry="4.4" fill="#000"/>
<ellipse cx="136.67" cy="413.00" rx="3.4" ry="4.4" fill="#000"/>
<ellipse cx="148.95" cy="413.80" rx="3.4" ry="4.4" fill="#000"/>
<ellipse cx="161.21" cy="412.30" rx="3.4" ry="4.4" fill="#000"/>
<ellipse cx="173.51" cy="415.00" rx="3.4" ry="4.4" fill="#000"/>
<ellipse cx="185.75" cy="411.20" rx="3.4" ry="4.4" fill="#000"/>
<ellipse cx="198.06" cy="414.60" rx="3.4" ry="4.4" fill="#000"/>
<ellipse cx="210.34" cy="415.40" rx="3.4" ry="4.4" fill="#000"/>
<ellipse cx="222.62" cy="415.40" rx="3.4" ry="4.4" fill="#000"/>
<ellipse cx="234.89" cy="415.40" rx="3.4" ry="4.4" fill="#000"/>
<path d="M83.59,402.20H91.39L87.49,410.60Z" fill="#000"/>
<path d="M95.82,398.70H103.62L99.72,407.10Z" fill="#000"/>
<path d="M108.09,397.60H115.89L111.99,406.00Z" fill="#000"/>
<path d="M120.30,392.00H128.10L124.20,400.40Z" fill="#000"/>
<path d="M132.53,388.10H140.33L136.43,396.50Z" fill="#000"/>
<path d="M144.78,386.20H152.58L148.68,394.60Z" fill="#000"/>
<path d="M157.04,384.30H164.84L160.94,392.70Z" fill="#000"/>
<path d="M169.27,380.40H177.07L173.17,388.80Z" fill="#000"/>
<path d="M181.50,376.90H189.30L185.40,385.30Z" fill="#000"/>
<path d="M193.77,376.00H201.57L197.67,384.40Z" fill="#000"/>
<path d="M206.00,372.60H213.80L209.90,381.00Z" fill="#000"/>
<path d="M218.30,374.30H226.10L222.20,382.70Z" fill="#000"/>
<path d="M230.51,369.20H238.31L234.41,377.60Z" fill="#000"/>
<ellipse cx="99.65" cy="395.80" rx="2.9" ry="3.7" fill="#fff" stroke="#000" stroke-width="1.5"/>
<ellipse cx="111.81" cy="385.60" rx="2.9" ry="3.7" fill="#fff" stroke="#000" stroke-width="1.5"/>
<ellipse cx="123.92" cy="371.50" rx="2.9" ry="3.7" fill="#fff" stroke="#000" stroke-width="1.5"/>
<ellipse cx="136.06" cy="359.20" rx="2.9" ry="3.7" fill="#fff" stroke="#000" stroke-width="1.5"/>
<ellipse cx="148.21" cy="348.50" rx="2.9" ry="3.7" fill="#fff" stroke="#000" stroke-width="1.5"/>
<ellipse cx="160.37" cy="338.00" rx="2.9" ry="3.7" fill="#fff" stroke="#000" stroke-width="1.5"/>
<ellipse cx="172.54" cy="329.20" rx="2.9" ry="3.7" fill="#fff" stroke="#000" stroke-width="1.5"/>
<ellipse cx="184.75" cy="322.70" rx="2.9" ry="3.7" fill="#fff" stroke="#000" stroke-width="1.5"/>
<ellipse cx="196.95" cy="316.20" rx="2.9" ry="3.7" fill="#fff" stroke="#000" stroke-width="1.5"/>
<ellipse cx="209.16" cy="310.40" rx="2.9" ry="3.7" fill="#fff" stroke="#000" stroke-width="1.5"/>
<ellipse cx="221.38" cy="305.70" rx="2.9" ry="3.7" fill="#fff" stroke="#000" stroke-width="1.5"/>
<ellipse cx="233.58" cy="299.30" rx="2.9" ry="3.7" fill="#fff" stroke="#000" stroke-width="1.5"/>
<rect x="84.95" y="400.10" width="5.0" height="5.8" fill="#fff" stroke="#000" stroke-width="1.4"/>
<rect x="97.10" y="389.10" width="5.0" height="5.8" fill="#fff" stroke="#000" stroke-width="1.4"/>
<rect x="109.19" y="372.50" width="5.0" height="5.8" fill="#fff" stroke="#000" stroke-width="1.4"/>
<rect x="121.24" y="352.50" width="5.0" height="5.8" fill="#fff" stroke="#000" stroke-width="1.4"/>
<rect x="133.42" y="344.00" width="5.0" height="5.8" fill="#fff" stroke="#000" stroke-width="1.4"/>
<rect x="145.55" y="331.30" width="5.0" height="5.8" fill="#fff" stroke="#000" stroke-width="1.4"/>
<rect x="157.67" y="317.10" width="5.0" height="5.8" fill="#fff" stroke="#000" stroke-width="1.4"/>
<rect x="169.85" y="309.40" width="5.0" height="5.8" fill="#fff" stroke="#000" stroke-width="1.4"/>
<rect x="182.01" y="298.60" width="5.0" height="5.8" fill="#fff" stroke="#000" stroke-width="1.4"/>
<rect x="194.22" y="292.90" width="5.0" height="5.8" fill="#fff" stroke="#000" stroke-width="1.4"/>
<rect x="206.44" y="287.90" width="5.0" height="5.8" fill="#fff" stroke="#000" stroke-width="1.4"/>
<rect x="218.65" y="282.70" width="5.0" height="5.8" fill="#fff" stroke="#000" stroke-width="1.4"/>
<rect x="230.85" y="276.10" width="5.0" height="5.8" fill="#fff" stroke="#000" stroke-width="1.4"/>
<rect x="84.60" y="403.60" width="5.8" height="6.8" fill="#000"/>
<rect x="96.77" y="394.60" width="5.8" height="6.8" fill="#000"/>
<rect x="108.83" y="375.10" width="5.8" height="6.8" fill="#000"/>
<rect x="120.92" y="359.10" width="5.8" height="6.8" fill="#000"/>
<rect x="133.07" y="347.60" width="5.8" height="6.8" fill="#000"/>
<rect x="145.20" y="335.10" width="5.8" height="6.8" fill="#000"/>
<rect x="157.33" y="322.60" width="5.8" height="6.8" fill="#000"/>
<rect x="169.53" y="315.60" width="5.8" height="6.8" fill="#000"/>
<rect x="181.69" y="305.60" width="5.8" height="6.8" fill="#000"/>
<rect x="193.87" y="297.10" width="5.8" height="6.8" fill="#000"/>
<rect x="206.10" y="293.10" width="5.8" height="6.8" fill="#000"/>
<rect x="218.32" y="288.10" width="5.8" height="6.8" fill="#000"/>
<rect x="230.53" y="282.60" width="5.8" height="6.8" fill="#000"/>
<path d="M87.50,402.20L91.10,407.00L87.50,411.80L83.90,407.00Z" fill="#000"/>
<path d="M99.68,394.20L103.28,399.00L99.68,403.80L96.08,399.00Z" fill="#000"/>
<path d="M111.72,372.90L115.32,377.70L111.72,382.50L108.12,377.70Z" fill="#000"/>
<path d="M123.84,359.00L127.44,363.80L123.84,368.60L120.24,363.80Z" fill="#000"/>
<path d="M135.97,346.70L139.57,351.50L135.97,356.30L132.37,351.50Z" fill="#000"/>
<path d="M148.11,334.40L151.71,339.20L148.11,344.00L144.51,339.20Z" fill="#000"/>
<path d="M160.25,322.90L163.85,327.70L160.25,332.50L156.65,327.70Z" fill="#000"/>
<path d="M172.45,316.00L176.05,320.80L172.45,325.60L168.85,320.80Z" fill="#000"/>
<path d="M184.62,306.40L188.22,311.20L184.62,316.00L181.02,311.20Z" fill="#000"/>
<path d="M196.78,296.70L200.38,301.50L196.78,306.30L193.18,301.50Z" fill="#000"/>
<path d="M209.01,292.70L212.61,297.50L209.01,302.30L205.41,297.50Z" fill="#000"/>
<path d="M221.23,287.50L224.83,292.30L221.23,297.10L217.63,292.30Z" fill="#000"/>
<path d="M233.44,282.30L237.04,287.10L233.44,291.90L229.84,287.10Z" fill="#000"/>
<line x1="325.85" y1="393.95" x2="517.15" y2="243.71" stroke="#000" stroke-width="1.4"/>
<line x1="325.86" y1="394.44" x2="517.20" y2="247.38" stroke="#000" stroke-width="1.4"/>
<line x1="325.86" y1="394.93" x2="517.22" y2="249.86" stroke="#000" stroke-width="1.4"/>
<line x1="325.87" y1="395.42" x2="517.24" y2="251.64" stroke="#000" stroke-width="1.4"/>
<line x1="325.87" y1="396.00" x2="517.35" y2="260.87" stroke="#000" stroke-width="1.4"/>
<line x1="325.77" y1="386.81" x2="518.33" y2="347.39" stroke="#000" stroke-width="1.4"/>
<line x1="325.78" y1="387.88" x2="518.85" y2="393.85" stroke="#000" stroke-width="1.4"/>
<ellipse cx="348.71" cy="390.40" rx="3.4" ry="4.4" fill="#000"/>
<ellipse cx="360.99" cy="390.70" rx="3.4" ry="4.4" fill="#000"/>
<ellipse cx="373.27" cy="391.00" rx="3.4" ry="4.4" fill="#000"/>
<ellipse cx="385.54" cy="391.10" rx="3.4" ry="4.4" fill="#000"/>
<ellipse cx="397.83" cy="391.80" rx="3.4" ry="4.4" fill="#000"/>
<ellipse cx="410.12" cy="393.00" rx="3.4" ry="4.4" fill="#000"/>
<ellipse cx="422.39" cy="393.00" rx="3.4" ry="4.4" fill="#000"/>
<ellipse cx="434.67" cy="393.00" rx="3.4" ry="4.4" fill="#000"/>
<ellipse cx="446.95" cy="393.60" rx="3.4" ry="4.4" fill="#000"/>
<ellipse cx="459.22" cy="393.60" rx="3.4" ry="4.4" fill="#000"/>
<ellipse cx="471.50" cy="393.60" rx="3.4" ry="4.4" fill="#000"/>
<ellipse cx="483.79" cy="394.80" rx="3.4" ry="4.4" fill="#000"/>
<ellipse cx="496.05" cy="394.10" rx="3.4" ry="4.4" fill="#000"/>
<path d="M344.76,382.20H352.56L348.66,390.60Z" fill="#000"/>
<path d="M356.97,376.50H364.77L360.87,384.90Z" fill="#000"/>
<path d="M369.24,375.80H377.04L373.14,384.20Z" fill="#000"/>
<path d="M381.49,373.20H389.29L385.39,381.60Z" fill="#000"/>
<path d="M393.71,368.80H401.51L397.61,377.20Z" fill="#000"/>
<path d="M405.94,364.50H413.74L409.84,372.90Z" fill="#000"/>
<path d="M418.18,361.80H425.98L422.08,370.20Z" fill="#000"/>
<path d="M430.43,359.50H438.23L434.33,367.90Z" fill="#000"/>
<path d="M442.70,359.20H450.50L446.60,367.60Z" fill="#000"/>
<path d="M454.96,357.60H462.76L458.86,366.00Z" fill="#000"/>
<path d="M467.22,356.80H475.02L471.12,365.20Z" fill="#000"/>
<path d="M479.51,357.30H487.31L483.41,365.70Z" fill="#000"/>
<path d="M491.76,355.60H499.56L495.66,364.00Z" fill="#000"/>
<ellipse cx="373.00" cy="367.40" rx="2.9" ry="3.7" fill="#fff" stroke="#000" stroke-width="1.5"/>
<ellipse cx="385.13" cy="354.20" rx="2.9" ry="3.7" fill="#fff" stroke="#000" stroke-width="1.5"/>
<ellipse cx="397.28" cy="343.80" rx="2.9" ry="3.7" fill="#fff" stroke="#000" stroke-width="1.5"/>
<ellipse cx="409.47" cy="336.10" rx="2.9" ry="3.7" fill="#fff" stroke="#000" stroke-width="1.5"/>
<ellipse cx="421.63" cy="325.70" rx="2.9" ry="3.7" fill="#fff" stroke="#000" stroke-width="1.5"/>
<ellipse cx="433.83" cy="318.80" rx="2.9" ry="3.7" fill="#fff" stroke="#000" stroke-width="1.5"/>
<ellipse cx="445.99" cy="309.20" rx="2.9" ry="3.7" fill="#fff" stroke="#000" stroke-width="1.5"/>
<ellipse cx="458.19" cy="302.60" rx="2.9" ry="3.7" fill="#fff" stroke="#000" stroke-width="1.5"/>
<ellipse cx="470.38" cy="294.90" rx="2.9" ry="3.7" fill="#fff" stroke="#000" stroke-width="1.5"/>
<ellipse cx="482.64" cy="293.20" rx="2.9" ry="3.7" fill="#fff" stroke="#000" stroke-width="1.5"/>
<ellipse cx="494.86" cy="288.80" rx="2.9" ry="3.7" fill="#fff" stroke="#000" stroke-width="1.5"/>
<rect x="346.16" y="382.50" width="5.0" height="5.8" fill="#fff" stroke="#000" stroke-width="1.4"/>
<rect x="358.31" y="372.00" width="5.0" height="5.8" fill="#fff" stroke="#000" stroke-width="1.4"/>
<rect x="370.42" y="357.40" width="5.0" height="5.8" fill="#fff" stroke="#000" stroke-width="1.4"/>
<rect x="382.55" y="344.70" width="5.0" height="5.8" fill="#fff" stroke="#000" stroke-width="1.4"/>
<rect x="394.68" y="332.00" width="5.0" height="5.8" fill="#fff" stroke="#000" stroke-width="1.4"/>
<rect x="406.84" y="321.60" width="5.0" height="5.8" fill="#fff" stroke="#000" stroke-width="1.4"/>
<rect x="418.97" y="308.90" width="5.0" height="5.8" fill="#fff" stroke="#000" stroke-width="1.4"/>
<rect x="431.16" y="301.30" width="5.0" height="5.8" fill="#fff" stroke="#000" stroke-width="1.4"/>
<rect x="443.36" y="294.70" width="5.0" height="5.8" fill="#fff" stroke="#000" stroke-width="1.4"/>
<rect x="455.55" y="287.00" width="5.0" height="5.8" fill="#fff" stroke="#000" stroke-width="1.4"/>
<rect x="467.73" y="278.50" width="5.0" height="5.8" fill="#fff" stroke="#000" stroke-width="1.4"/>
<rect x="479.95" y="273.50" width="5.0" height="5.8" fill="#fff" stroke="#000" stroke-width="1.4"/>
<rect x="492.15" y="266.60" width="5.0" height="5.8" fill="#fff" stroke="#000" stroke-width="1.4"/>
<rect x="345.78" y="384.60" width="5.8" height="6.8" fill="#000"/>
<rect x="357.96" y="375.60" width="5.8" height="6.8" fill="#000"/>
<rect x="370.04" y="358.60" width="5.8" height="6.8" fill="#000"/>
<rect x="382.16" y="345.10" width="5.8" height="6.8" fill="#000"/>
<rect x="394.31" y="333.60" width="5.8" height="6.8" fill="#000"/>
<rect x="406.46" y="323.10" width="5.8" height="6.8" fill="#000"/>
<rect x="418.60" y="310.60" width="5.8" height="6.8" fill="#000"/>
<rect x="430.79" y="303.10" width="5.8" height="6.8" fill="#000"/>
<rect x="442.97" y="295.10" width="5.8" height="6.8" fill="#000"/>
<rect x="455.17" y="288.10" width="5.8" height="6.8" fill="#000"/>
<rect x="467.38" y="282.10" width="5.8" height="6.8" fill="#000"/>
<rect x="479.61" y="278.10" width="5.8" height="6.8" fill="#000"/>
<rect x="491.81" y="271.60" width="5.8" height="6.8" fill="#000"/>
<path d="M348.70,384.20L352.30,389.00L348.70,393.80L345.10,389.00Z" fill="#000"/>
<path d="M360.90,378.20L364.50,383.00L360.90,387.80L357.30,383.00Z" fill="#000"/>
<path d="M372.95,358.20L376.55,363.00L372.95,367.80L369.35,363.00Z" fill="#000"/>
<path d="M385.07,344.70L388.67,349.50L385.07,354.30L381.47,349.50Z" fill="#000"/>
<path d="M397.23,334.00L400.83,338.80L397.23,343.60L393.63,338.80Z" fill="#000"/>
<path d="M409.39,323.60L412.99,328.40L409.39,333.20L405.79,328.40Z" fill="#000"/>
<path d="M421.53,312.00L425.13,316.80L421.53,321.60L417.93,316.80Z" fill="#000"/>
<path d="M433.72,304.40L437.32,309.20L433.72,314.00L430.12,309.20Z" fill="#000"/>
<path d="M445.88,294.70L449.48,299.50L445.88,304.30L442.28,299.50Z" fill="#000"/>
<path d="M458.09,289.00L461.69,293.80L458.09,298.60L454.49,293.80Z" fill="#000"/>
<path d="M470.30,283.20L473.90,288.00L470.30,292.80L466.70,288.00Z" fill="#000"/>
<path d="M482.55,280.20L486.15,285.00L482.55,289.80L478.95,285.00Z" fill="#000"/>
<path d="M494.76,274.70L498.36,279.50L494.76,284.30L491.16,279.50Z" fill="#000"/>
<text transform="translate(46.88,19.93) scale(1,0.985)" font-family="Liberation Sans" font-size="15.3" text-anchor="middle" fill="#000">40</text>
<text transform="translate(47.34,54.83) scale(1,0.985)" font-family="Liberation Sans" font-size="15.3" text-anchor="middle" fill="#000">35</text>
<text transform="translate(47.07,91.33) scale(1,0.985)" font-family="Liberation Sans" font-size="15.3" text-anchor="middle" fill="#000">30</text>
<text transform="translate(47.59,127.73) scale(1,0.985)" font-family="Liberation Sans" font-size="15.3" text-anchor="middle" fill="#000">25</text>
<text transform="translate(47.57,163.08) scale(1,0.985)" font-family="Liberation Sans" font-size="15.3" text-anchor="middle" fill="#000">20</text>
<text transform="translate(49.00,199.61) scale(1,0.985)" font-family="Liberation Sans" font-size="15.3" text-anchor="middle" fill="#000">15</text>
<text transform="translate(302.61,19.98) scale(1,0.985)" font-family="Liberation Sans" font-size="15.3" text-anchor="middle" fill="#000">250</text>
<text transform="translate(302.56,56.63) scale(1,0.985)" font-family="Liberation Sans" font-size="15.3" text-anchor="middle" fill="#000">200</text>
<text transform="translate(303.47,92.83) scale(1,0.985)" font-family="Liberation Sans" font-size="15.3" text-anchor="middle" fill="#000">150</text>
<text transform="translate(304.22,128.48) scale(1,0.985)" font-family="Liberation Sans" font-size="15.3" text-anchor="middle" fill="#000">100</text>
<text transform="translate(306.55,164.43) scale(1,0.985)" font-family="Liberation Sans" font-size="15.3" text-anchor="middle" fill="#000">50</text>
<text transform="translate(309.39,199.78) scale(1,0.985)" font-family="Liberation Sans" font-size="15.3" text-anchor="middle" fill="#000">0</text>
<text transform="translate(49.57,249.98) scale(1,0.985)" font-family="Liberation Sans" font-size="15.3" text-anchor="middle" fill="#000">60</text>
<text transform="translate(49.85,289.73) scale(1,0.985)" font-family="Liberation Sans" font-size="15.3" text-anchor="middle" fill="#000">50</text>
<text transform="translate(50.18,329.23) scale(1,0.985)" font-family="Liberation Sans" font-size="15.3" text-anchor="middle" fill="#000">40</text>
<text transform="translate(50.62,369.13) scale(1,0.985)" font-family="Liberation Sans" font-size="15.3" text-anchor="middle" fill="#000">30</text>
<text transform="translate(50.52,409.68) scale(1,0.985)" font-family="Liberation Sans" font-size="15.3" text-anchor="middle" fill="#000">20</text>
<text transform="translate(305.82,249.78) scale(1,0.985)" font-family="Liberation Sans" font-size="15.3" text-anchor="middle" fill="#000">100</text>
<text transform="translate(307.63,285.28) scale(1,0.985)" font-family="Liberation Sans" font-size="15.3" text-anchor="middle" fill="#000">80</text>
<text transform="translate(308.57,320.43) scale(1,0.985)" font-family="Liberation Sans" font-size="15.3" text-anchor="middle" fill="#000">60</text>
<text transform="translate(309.08,356.48) scale(1,0.985)" font-family="Liberation Sans" font-size="15.3" text-anchor="middle" fill="#000">40</text>
<text transform="translate(309.17,393.13) scale(1,0.985)" font-family="Liberation Sans" font-size="15.3" text-anchor="middle" fill="#000">20</text>
<text transform="translate(311.64,428.43) scale(1,0.985)" font-family="Liberation Sans" font-size="15.3" text-anchor="middle" fill="#000">0</text>
<text transform="translate(86.79,212.98) scale(1,0.985)" font-family="Liberation Sans" font-size="15.3" text-anchor="middle" fill="#000">0</text>
<text transform="translate(139.38,212.98) scale(1,0.985)" font-family="Liberation Sans" font-size="15.3" text-anchor="middle" fill="#000">40</text>
<text transform="translate(188.23,212.98) scale(1,0.985)" font-family="Liberation Sans" font-size="15.3" text-anchor="middle" fill="#000">80</text>
<text transform="translate(240.97,212.98) scale(1,0.985)" font-family="Liberation Sans" font-size="15.3" text-anchor="middle" fill="#000">120</text>
<text transform="translate(348.64,212.28) scale(1,0.985)" font-family="Liberation Sans" font-size="15.3" text-anchor="middle" fill="#000">0</text>
<text transform="translate(400.23,212.28) scale(1,0.985)" font-family="Liberation Sans" font-size="15.3" text-anchor="middle" fill="#000">40</text>
<text transform="translate(448.98,212.28) scale(1,0.985)" font-family="Liberation Sans" font-size="15.3" text-anchor="middle" fill="#000">80</text>
<text transform="translate(500.67,212.28) scale(1,0.985)" font-family="Liberation Sans" font-size="15.3" text-anchor="middle" fill="#000">120</text>
<text transform="translate(89.14,441.58) scale(1,0.985)" font-family="Liberation Sans" font-size="15.3" text-anchor="middle" fill="#000">0</text>
<text transform="translate(141.33,441.58) scale(1,0.985)" font-family="Liberation Sans" font-size="15.3" text-anchor="middle" fill="#000">40</text>
<text transform="translate(190.33,441.58) scale(1,0.985)" font-family="Liberation Sans" font-size="15.3" text-anchor="middle" fill="#000">80</text>
<text transform="translate(243.27,441.58) scale(1,0.985)" font-family="Liberation Sans" font-size="15.3" text-anchor="middle" fill="#000">120</text>
<text transform="translate(350.99,440.73) scale(1,0.985)" font-family="Liberation Sans" font-size="15.3" text-anchor="middle" fill="#000">0</text>
<text transform="translate(402.73,440.73) scale(1,0.985)" font-family="Liberation Sans" font-size="15.3" text-anchor="middle" fill="#000">40</text>
<text transform="translate(451.63,440.73) scale(1,0.985)" font-family="Liberation Sans" font-size="15.3" text-anchor="middle" fill="#000">80</text>
<text transform="translate(503.57,440.73) scale(1,0.985)" font-family="Liberation Sans" font-size="15.3" text-anchor="middle" fill="#000">120</text>
<text transform="translate(71.44,39.9) scale(1,1.03)" font-family="Liberation Sans" font-size="19.2" fill="#000">Caspase-1</text>
<text transform="translate(332.84,39.9) scale(1,1.03)" font-family="Liberation Sans" font-size="19.2" fill="#000">Caspase-3</text>
<text transform="translate(71.74,269.0) scale(1,1.03)" font-family="Liberation Sans" font-size="19.2" fill="#000">Caspases-4,-5,-9</text>
<text transform="translate(337.14,265.3) scale(1,1.03)" font-family="Liberation Sans" font-size="19.2" fill="#000">Caspase-8</text>
</svg>
</body></html>
